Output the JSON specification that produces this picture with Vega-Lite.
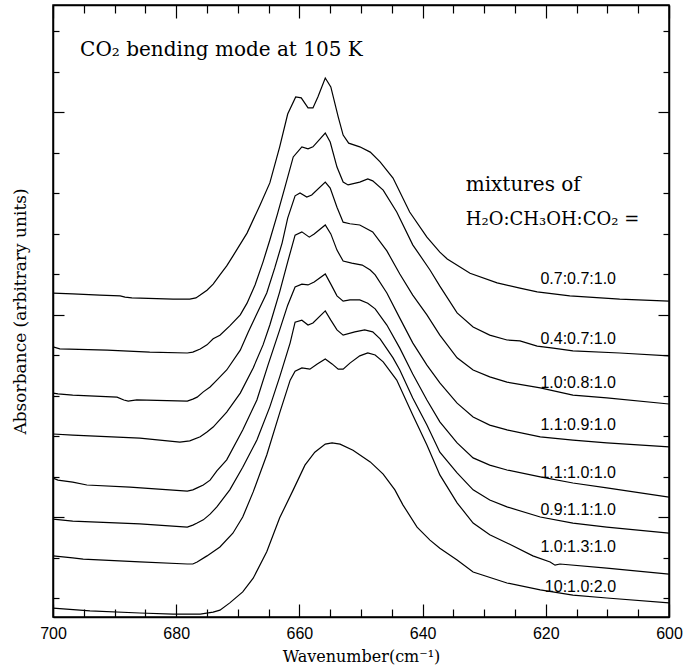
{
  "$schema": "https://vega.github.io/schema/vega-lite/v6.json",
  "width": 616,
  "height": 612,
  "autosize": {"type": "none"},
  "padding": {"left": 53, "top": 5, "right": 23, "bottom": 53},
  "background": "white",
  "config": {"view": {"stroke": "black", "strokeWidth": 1.5}},
  "datasets": {
    "curves": [
      {"s":"0.7:0.7:1.0","w":700,"a":7.53},{"s":"0.7:0.7:1.0","w":696.8,"a":7.51},{"s":"0.7:0.7:1.0","w":692.4,"a":7.48},{"s":"0.7:0.7:1.0","w":689.1,"a":7.46},{"s":"0.7:0.7:1.0","w":688.3,"a":7.43},{"s":"0.7:0.7:1.0","w":687.2,"a":7.41},{"s":"0.7:0.7:1.0","w":680.5,"a":7.38},{"s":"0.7:0.7:1.0","w":677.8,"a":7.38},{"s":"0.7:0.7:1.0","w":676.8,"a":7.41},{"s":"0.7:0.7:1.0","w":676.1,"a":7.48},{"s":"0.7:0.7:1.0","w":675.0,"a":7.60},{"s":"0.7:0.7:1.0","w":674.0,"a":7.75},{"s":"0.7:0.7:1.0","w":672.9,"a":7.98},{"s":"0.7:0.7:1.0","w":671.8,"a":8.20},{"s":"0.7:0.7:1.0","w":670.8,"a":8.44},{"s":"0.7:0.7:1.0","w":668.5,"a":9.01},{"s":"0.7:0.7:1.0","w":666.4,"a":9.70},{"s":"0.7:0.7:1.0","w":664.8,"a":10.25},{"s":"0.7:0.7:1.0","w":663.2,"a":11.14},{"s":"0.7:0.7:1.0","w":661.9,"a":11.95},{"s":"0.7:0.7:1.0","w":660.6,"a":12.37},{"s":"0.7:0.7:1.0","w":659.7,"a":12.35},{"s":"0.7:0.7:1.0","w":658.6,"a":12.10},{"s":"0.7:0.7:1.0","w":657.8,"a":12.10},{"s":"0.7:0.7:1.0","w":657.0,"a":12.37},{"s":"0.7:0.7:1.0","w":655.8,"a":12.84},{"s":"0.7:0.7:1.0","w":654.9,"a":12.62},{"s":"0.7:0.7:1.0","w":653.7,"a":11.88},{"s":"0.7:0.7:1.0","w":652.9,"a":11.43},{"s":"0.7:0.7:1.0","w":652.0,"a":11.23},{"s":"0.7:0.7:1.0","w":650.2,"a":11.14},{"s":"0.7:0.7:1.0","w":648.5,"a":11.01},{"s":"0.7:0.7:1.0","w":646.9,"a":10.77},{"s":"0.7:0.7:1.0","w":644.8,"a":10.37},{"s":"0.7:0.7:1.0","w":642.1,"a":9.53},{"s":"0.7:0.7:1.0","w":639.3,"a":8.91},{"s":"0.7:0.7:1.0","w":637.2,"a":8.54},{"s":"0.7:0.7:1.0","w":636.0,"a":8.37},{"s":"0.7:0.7:1.0","w":632.3,"a":8.02},{"s":"0.7:0.7:1.0","w":627.9,"a":7.78},{"s":"0.7:0.7:1.0","w":624.2,"a":7.65},{"s":"0.7:0.7:1.0","w":621.4,"a":7.56},{"s":"0.7:0.7:1.0","w":616.1,"a":7.46},{"s":"0.7:0.7:1.0","w":608.0,"a":7.38},{"s":"0.7:0.7:1.0","w":600,"a":7.33},

      {"s":"0.4:0.7:1.0","w":700,"a":6.20},{"s":"0.4:0.7:1.0","w":698.9,"a":6.15},{"s":"0.4:0.7:1.0","w":691.2,"a":6.12},{"s":"0.4:0.7:1.0","w":684.3,"a":6.07},{"s":"0.4:0.7:1.0","w":678.2,"a":6.05},{"s":"0.4:0.7:1.0","w":677.3,"a":6.07},{"s":"0.4:0.7:1.0","w":676.1,"a":6.15},{"s":"0.4:0.7:1.0","w":675.0,"a":6.25},{"s":"0.4:0.7:1.0","w":674.0,"a":6.40},{"s":"0.4:0.7:1.0","w":672.9,"a":6.49},{"s":"0.4:0.7:1.0","w":671.3,"a":6.72},{"s":"0.4:0.7:1.0","w":669.6,"a":6.99},{"s":"0.4:0.7:1.0","w":668.5,"a":7.28},{"s":"0.4:0.7:1.0","w":667.2,"a":7.73},{"s":"0.4:0.7:1.0","w":665.9,"a":8.30},{"s":"0.4:0.7:1.0","w":664.8,"a":8.84},{"s":"0.4:0.7:1.0","w":663.6,"a":9.46},{"s":"0.4:0.7:1.0","w":662.3,"a":10.17},{"s":"0.4:0.7:1.0","w":661.0,"a":10.89},{"s":"0.4:0.7:1.0","w":659.6,"a":11.14},{"s":"0.4:0.7:1.0","w":658.6,"a":11.09},{"s":"0.4:0.7:1.0","w":657.8,"a":11.14},{"s":"0.4:0.7:1.0","w":655.8,"a":11.48},{"s":"0.4:0.7:1.0","w":655.0,"a":11.26},{"s":"0.4:0.7:1.0","w":653.9,"a":10.64},{"s":"0.4:0.7:1.0","w":652.9,"a":10.27},{"s":"0.4:0.7:1.0","w":652.1,"a":10.20},{"s":"0.4:0.7:1.0","w":650.2,"a":10.27},{"s":"0.4:0.7:1.0","w":648.9,"a":10.35},{"s":"0.4:0.7:1.0","w":648.1,"a":10.30},{"s":"0.4:0.7:1.0","w":646.4,"a":10.07},{"s":"0.4:0.7:1.0","w":644.2,"a":9.53},{"s":"0.4:0.7:1.0","w":641.6,"a":8.72},{"s":"0.4:0.7:1.0","w":638.8,"a":8.10},{"s":"0.4:0.7:1.0","w":637.2,"a":7.70},{"s":"0.4:0.7:1.0","w":634.4,"a":7.04},{"s":"0.4:0.7:1.0","w":631.8,"a":6.69},{"s":"0.4:0.7:1.0","w":629.1,"a":6.49},{"s":"0.4:0.7:1.0","w":626.3,"a":6.37},{"s":"0.4:0.7:1.0","w":624.2,"a":6.35},{"s":"0.4:0.7:1.0","w":621.4,"a":6.22},{"s":"0.4:0.7:1.0","w":618.8,"a":6.17},{"s":"0.4:0.7:1.0","w":615.6,"a":6.10},{"s":"0.4:0.7:1.0","w":608.0,"a":6.05},{"s":"0.4:0.7:1.0","w":600,"a":5.98},

      {"s":"1.0:0.8:1.0","w":700,"a":5.06},{"s":"1.0:0.8:1.0","w":699.2,"a":5.04},{"s":"1.0:0.8:1.0","w":696.8,"a":5.01},{"s":"1.0:0.8:1.0","w":689.6,"a":4.96},{"s":"1.0:0.8:1.0","w":688.5,"a":4.89},{"s":"1.0:0.8:1.0","w":687.8,"a":4.86},{"s":"1.0:0.8:1.0","w":686.4,"a":4.89},{"s":"1.0:0.8:1.0","w":678.2,"a":4.86},{"s":"1.0:0.8:1.0","w":677.3,"a":4.91},{"s":"1.0:0.8:1.0","w":676.6,"a":4.96},{"s":"1.0:0.8:1.0","w":675.6,"a":5.09},{"s":"1.0:0.8:1.0","w":674.5,"a":5.21},{"s":"1.0:0.8:1.0","w":673.4,"a":5.38},{"s":"1.0:0.8:1.0","w":671.8,"a":5.63},{"s":"1.0:0.8:1.0","w":669.6,"a":6.12},{"s":"1.0:0.8:1.0","w":668.3,"a":6.57},{"s":"1.0:0.8:1.0","w":667.0,"a":6.99},{"s":"1.0:0.8:1.0","w":665.3,"a":7.53},{"s":"1.0:0.8:1.0","w":664.0,"a":8.15},{"s":"1.0:0.8:1.0","w":662.8,"a":8.77},{"s":"1.0:0.8:1.0","w":661.9,"a":9.38},{"s":"1.0:0.8:1.0","w":660.7,"a":9.93},{"s":"1.0:0.8:1.0","w":659.9,"a":10.00},{"s":"1.0:0.8:1.0","w":658.8,"a":9.90},{"s":"1.0:0.8:1.0","w":658.0,"a":9.95},{"s":"1.0:0.8:1.0","w":655.8,"a":10.27},{"s":"1.0:0.8:1.0","w":655.0,"a":10.12},{"s":"1.0:0.8:1.0","w":653.9,"a":9.65},{"s":"1.0:0.8:1.0","w":652.9,"a":9.28},{"s":"1.0:0.8:1.0","w":651.8,"a":9.24},{"s":"1.0:0.8:1.0","w":650.2,"a":9.21},{"s":"1.0:0.8:1.0","w":648.1,"a":9.04},{"s":"1.0:0.8:1.0","w":645.8,"a":8.57},{"s":"1.0:0.8:1.0","w":643.7,"a":8.00},{"s":"1.0:0.8:1.0","w":641.6,"a":7.48},{"s":"1.0:0.8:1.0","w":639.3,"a":6.99},{"s":"1.0:0.8:1.0","w":637.2,"a":6.49},{"s":"1.0:0.8:1.0","w":634.4,"a":5.93},{"s":"1.0:0.8:1.0","w":631.8,"a":5.63},{"s":"1.0:0.8:1.0","w":629.1,"a":5.46},{"s":"1.0:0.8:1.0","w":626.3,"a":5.33},{"s":"1.0:0.8:1.0","w":620.9,"a":5.19},{"s":"1.0:0.8:1.0","w":615.6,"a":5.01},{"s":"1.0:0.8:1.0","w":610.1,"a":4.94},{"s":"1.0:0.8:1.0","w":600,"a":4.79},

      {"s":"1.1:0.9:1.0","w":700,"a":4.05},{"s":"1.1:0.9:1.0","w":696.8,"a":4.02},{"s":"1.1:0.9:1.0","w":685.9,"a":3.95},{"s":"1.1:0.9:1.0","w":679.4,"a":3.85},{"s":"1.1:0.9:1.0","w":677.8,"a":3.88},{"s":"1.1:0.9:1.0","w":676.1,"a":3.98},{"s":"1.1:0.9:1.0","w":675.0,"a":4.10},{"s":"1.1:0.9:1.0","w":674.0,"a":4.22},{"s":"1.1:0.9:1.0","w":671.8,"a":4.59},{"s":"1.1:0.9:1.0","w":669.6,"a":5.06},{"s":"1.1:0.9:1.0","w":667.5,"a":5.68},{"s":"1.1:0.9:1.0","w":665.9,"a":6.25},{"s":"1.1:0.9:1.0","w":664.8,"a":6.74},{"s":"1.1:0.9:1.0","w":663.2,"a":7.56},{"s":"1.1:0.9:1.0","w":661.9,"a":8.30},{"s":"1.1:0.9:1.0","w":660.7,"a":8.96},{"s":"1.1:0.9:1.0","w":659.6,"a":9.04},{"s":"1.1:0.9:1.0","w":658.4,"a":8.91},{"s":"1.1:0.9:1.0","w":657.6,"a":8.99},{"s":"1.1:0.9:1.0","w":655.8,"a":9.21},{"s":"1.1:0.9:1.0","w":654.9,"a":8.99},{"s":"1.1:0.9:1.0","w":653.9,"a":8.59},{"s":"1.1:0.9:1.0","w":652.9,"a":8.32},{"s":"1.1:0.9:1.0","w":651.5,"a":8.27},{"s":"1.1:0.9:1.0","w":649.8,"a":8.22},{"s":"1.1:0.9:1.0","w":648.5,"a":8.10},{"s":"1.1:0.9:1.0","w":647.7,"a":7.98},{"s":"1.1:0.9:1.0","w":645.8,"a":7.53},{"s":"1.1:0.9:1.0","w":643.7,"a":6.91},{"s":"1.1:0.9:1.0","w":641.6,"a":6.30},{"s":"1.1:0.9:1.0","w":639.3,"a":5.75},{"s":"1.1:0.9:1.0","w":637.2,"a":5.31},{"s":"1.1:0.9:1.0","w":634.4,"a":4.81},{"s":"1.1:0.9:1.0","w":631.8,"a":4.47},{"s":"1.1:0.9:1.0","w":629.1,"a":4.27},{"s":"1.1:0.9:1.0","w":626.3,"a":4.15},{"s":"1.1:0.9:1.0","w":620.9,"a":3.98},{"s":"1.1:0.9:1.0","w":615.6,"a":3.90},{"s":"1.1:0.9:1.0","w":610.1,"a":3.83},{"s":"1.1:0.9:1.0","w":600,"a":3.73},

      {"s":"1.1:1.0:1.0","w":700,"a":2.96},{"s":"1.1:1.0:1.0","w":699.2,"a":2.91},{"s":"1.1:1.0:1.0","w":696.8,"a":2.86},{"s":"1.1:1.0:1.0","w":694.5,"a":2.79},{"s":"1.1:1.0:1.0","w":687.5,"a":2.74},{"s":"1.1:1.0:1.0","w":678.2,"a":2.64},{"s":"1.1:1.0:1.0","w":677.3,"a":2.67},{"s":"1.1:1.0:1.0","w":676.6,"a":2.72},{"s":"1.1:1.0:1.0","w":675.6,"a":2.79},{"s":"1.1:1.0:1.0","w":674.5,"a":2.91},{"s":"1.1:1.0:1.0","w":673.4,"a":3.14},{"s":"1.1:1.0:1.0","w":671.8,"a":3.41},{"s":"1.1:1.0:1.0","w":669.2,"a":4.15},{"s":"1.1:1.0:1.0","w":666.9,"a":4.89},{"s":"1.1:1.0:1.0","w":665.1,"a":5.75},{"s":"1.1:1.0:1.0","w":663.2,"a":6.62},{"s":"1.1:1.0:1.0","w":661.9,"a":7.23},{"s":"1.1:1.0:1.0","w":660.7,"a":7.68},{"s":"1.1:1.0:1.0","w":659.6,"a":7.75},{"s":"1.1:1.0:1.0","w":658.6,"a":7.73},{"s":"1.1:1.0:1.0","w":657.6,"a":7.80},{"s":"1.1:1.0:1.0","w":655.8,"a":8.00},{"s":"1.1:1.0:1.0","w":654.9,"a":7.75},{"s":"1.1:1.0:1.0","w":653.9,"a":7.46},{"s":"1.1:1.0:1.0","w":652.9,"a":7.33},{"s":"1.1:1.0:1.0","w":651.8,"a":7.36},{"s":"1.1:1.0:1.0","w":650.2,"a":7.36},{"s":"1.1:1.0:1.0","w":648.9,"a":7.28},{"s":"1.1:1.0:1.0","w":647.7,"a":7.14},{"s":"1.1:1.0:1.0","w":645.8,"a":6.74},{"s":"1.1:1.0:1.0","w":643.7,"a":6.17},{"s":"1.1:1.0:1.0","w":641.6,"a":5.53},{"s":"1.1:1.0:1.0","w":639.3,"a":4.89},{"s":"1.1:1.0:1.0","w":637.2,"a":4.35},{"s":"1.1:1.0:1.0","w":634.4,"a":3.83},{"s":"1.1:1.0:1.0","w":631.8,"a":3.46},{"s":"1.1:1.0:1.0","w":629.1,"a":3.28},{"s":"1.1:1.0:1.0","w":626.3,"a":3.16},{"s":"1.1:1.0:1.0","w":620.9,"a":2.99},{"s":"1.1:1.0:1.0","w":615.6,"a":2.84},{"s":"1.1:1.0:1.0","w":610.1,"a":2.72},{"s":"1.1:1.0:1.0","w":600,"a":2.49},

      {"s":"0.9:1.1:1.0","w":700,"a":1.95},{"s":"0.9:1.1:1.0","w":696.8,"a":1.90},{"s":"0.9:1.1:1.0","w":685.9,"a":1.83},{"s":"0.9:1.1:1.0","w":678.2,"a":1.75},{"s":"0.9:1.1:1.0","w":677.3,"a":1.80},{"s":"0.9:1.1:1.0","w":676.6,"a":1.85},{"s":"0.9:1.1:1.0","w":675.6,"a":1.93},{"s":"0.9:1.1:1.0","w":674.5,"a":2.07},{"s":"0.9:1.1:1.0","w":673.4,"a":2.25},{"s":"0.9:1.1:1.0","w":671.3,"a":2.67},{"s":"0.9:1.1:1.0","w":669.2,"a":3.23},{"s":"0.9:1.1:1.0","w":666.9,"a":3.90},{"s":"0.9:1.1:1.0","w":664.8,"a":4.72},{"s":"0.9:1.1:1.0","w":663.2,"a":5.46},{"s":"0.9:1.1:1.0","w":661.5,"a":6.30},{"s":"0.9:1.1:1.0","w":660.7,"a":6.81},{"s":"0.9:1.1:1.0","w":659.6,"a":6.86},{"s":"0.9:1.1:1.0","w":658.6,"a":6.74},{"s":"0.9:1.1:1.0","w":657.8,"a":6.79},{"s":"0.9:1.1:1.0","w":655.8,"a":7.09},{"s":"0.9:1.1:1.0","w":654.9,"a":6.86},{"s":"0.9:1.1:1.0","w":653.9,"a":6.62},{"s":"0.9:1.1:1.0","w":652.9,"a":6.49},{"s":"0.9:1.1:1.0","w":651.0,"a":6.57},{"s":"0.9:1.1:1.0","w":649.4,"a":6.62},{"s":"0.9:1.1:1.0","w":648.1,"a":6.57},{"s":"0.9:1.1:1.0","w":646.9,"a":6.40},{"s":"0.9:1.1:1.0","w":644.8,"a":5.93},{"s":"0.9:1.1:1.0","w":643.7,"a":5.63},{"s":"0.9:1.1:1.0","w":641.6,"a":4.94},{"s":"0.9:1.1:1.0","w":639.3,"a":4.27},{"s":"0.9:1.1:1.0","w":637.2,"a":3.60},{"s":"0.9:1.1:1.0","w":634.4,"a":3.09},{"s":"0.9:1.1:1.0","w":631.8,"a":2.67},{"s":"0.9:1.1:1.0","w":629.1,"a":2.42},{"s":"0.9:1.1:1.0","w":626.3,"a":2.25},{"s":"0.9:1.1:1.0","w":620.9,"a":2.00},{"s":"0.9:1.1:1.0","w":615.6,"a":1.85},{"s":"0.9:1.1:1.0","w":610.1,"a":1.75},{"s":"0.9:1.1:1.0","w":600,"a":1.60},

      {"s":"1.0:1.3:1.0","w":700,"a":1.04},{"s":"1.0:1.3:1.0","w":696.8,"a":0.99},{"s":"1.0:1.3:1.0","w":695.1,"a":0.96},{"s":"1.0:1.3:1.0","w":685.9,"a":0.89},{"s":"1.0:1.3:1.0","w":678.2,"a":0.84},{"s":"1.0:1.3:1.0","w":677.3,"a":0.84},{"s":"1.0:1.3:1.0","w":676.6,"a":0.89},{"s":"1.0:1.3:1.0","w":675.0,"a":1.04},{"s":"1.0:1.3:1.0","w":672.9,"a":1.26},{"s":"1.0:1.3:1.0","w":670.8,"a":1.60},{"s":"1.0:1.3:1.0","w":669.2,"a":2.00},{"s":"1.0:1.3:1.0","w":667.5,"a":2.62},{"s":"1.0:1.3:1.0","w":665.3,"a":3.53},{"s":"1.0:1.3:1.0","w":663.2,"a":4.57},{"s":"1.0:1.3:1.0","w":661.5,"a":5.38},{"s":"1.0:1.3:1.0","w":660.7,"a":5.60},{"s":"1.0:1.3:1.0","w":659.6,"a":5.68},{"s":"1.0:1.3:1.0","w":658.3,"a":5.65},{"s":"1.0:1.3:1.0","w":657.1,"a":5.78},{"s":"1.0:1.3:1.0","w":655.8,"a":5.90},{"s":"1.0:1.3:1.0","w":654.7,"a":5.78},{"s":"1.0:1.3:1.0","w":653.7,"a":5.65},{"s":"1.0:1.3:1.0","w":652.9,"a":5.65},{"s":"1.0:1.3:1.0","w":651.8,"a":5.80},{"s":"1.0:1.3:1.0","w":650.2,"a":5.98},{"s":"1.0:1.3:1.0","w":648.9,"a":6.05},{"s":"1.0:1.3:1.0","w":647.7,"a":6.00},{"s":"1.0:1.3:1.0","w":646.4,"a":5.83},{"s":"1.0:1.3:1.0","w":644.2,"a":5.38},{"s":"1.0:1.3:1.0","w":641.6,"a":4.52},{"s":"1.0:1.3:1.0","w":639.3,"a":3.78},{"s":"1.0:1.3:1.0","w":637.2,"a":3.04},{"s":"1.0:1.3:1.0","w":634.4,"a":2.35},{"s":"1.0:1.3:1.0","w":631.8,"a":1.85},{"s":"1.0:1.3:1.0","w":629.1,"a":1.56},{"s":"1.0:1.3:1.0","w":626.3,"a":1.36},{"s":"1.0:1.3:1.0","w":622.1,"a":1.04},{"s":"1.0:1.3:1.0","w":619.3,"a":0.89},{"s":"1.0:1.3:1.0","w":618.5,"a":0.81},{"s":"1.0:1.3:1.0","w":617.7,"a":0.84},{"s":"1.0:1.3:1.0","w":610.1,"a":0.74},{"s":"1.0:1.3:1.0","w":600,"a":0.59},

      {"s":"10:1.0:2.0","w":700,"a":-0.25},{"s":"10:1.0:2.0","w":694.0,"a":-0.32},{"s":"10:1.0:2.0","w":685.9,"a":-0.37},{"s":"10:1.0:2.0","w":680.5,"a":-0.40},{"s":"10:1.0:2.0","w":676.1,"a":-0.40},{"s":"10:1.0:2.0","w":674.0,"a":-0.35},{"s":"10:1.0:2.0","w":672.9,"a":-0.30},{"s":"10:1.0:2.0","w":671.3,"a":-0.12},{"s":"10:1.0:2.0","w":669.2,"a":0.15},{"s":"10:1.0:2.0","w":667.5,"a":0.49},{"s":"10:1.0:2.0","w":665.3,"a":1.14},{"s":"10:1.0:2.0","w":663.2,"a":1.98},{"s":"10:1.0:2.0","w":661.0,"a":2.67},{"s":"10:1.0:2.0","w":659.1,"a":3.28},{"s":"10:1.0:2.0","w":657.5,"a":3.60},{"s":"10:1.0:2.0","w":655.8,"a":3.80},{"s":"10:1.0:2.0","w":654.7,"a":3.83},{"s":"10:1.0:2.0","w":653.4,"a":3.80},{"s":"10:1.0:2.0","w":651.3,"a":3.65},{"s":"10:1.0:2.0","w":648.5,"a":3.36},{"s":"10:1.0:2.0","w":646.4,"a":3.06},{"s":"10:1.0:2.0","w":644.5,"a":2.67},{"s":"10:1.0:2.0","w":643.2,"a":2.30},{"s":"10:1.0:2.0","w":640.9,"a":1.75},{"s":"10:1.0:2.0","w":638.8,"a":1.43},{"s":"10:1.0:2.0","w":637.2,"a":1.23},{"s":"10:1.0:2.0","w":634.4,"a":0.94},{"s":"10:1.0:2.0","w":631.8,"a":0.64},{"s":"10:1.0:2.0","w":626.3,"a":0.37},{"s":"10:1.0:2.0","w":620.9,"a":0.20},{"s":"10:1.0:2.0","w":615.6,"a":0.07},{"s":"10:1.0:2.0","w":610.1,"a":0.00},{"s":"10:1.0:2.0","w":600,"a":-0.12}
    ],
    "labels": [
      {"t":"0.7:0.7:1.0","w":608.6,"a":7.88},
      {"t":"0.4:0.7:1.0","w":608.6,"a":6.40},
      {"t":"1.0:0.8:1.0","w":608.6,"a":5.31},
      {"t":"1.1:0.9:1.0","w":608.6,"a":4.27},
      {"t":"1.1:1.0:1.0","w":608.6,"a":3.09},
      {"t":"0.9:1.1:1.0","w":608.6,"a":2.17},
      {"t":"1.0:1.3:1.0","w":608.6,"a":1.26},
      {"t":"10:1.0:2.0","w":608.6,"a":0.27}
    ],
    "notes": [
      {"t":"CO₂ bending mode at 105 K","w":695.6,"a":13.53},
      {"t":"mixtures of","w":633.0,"a":10.20}
    ],
    "formula": [
      {"t":"H₂O:CH₃OH:CO₂ =","w":633.0,"a":9.33}
    ]
  },
  "layer": [
    {
      "data": {"name": "curves"},
      "mark": {"type": "line", "color": "black", "strokeWidth": 1.2, "clip": true},
      "encoding": {
        "x": {"field": "w", "type": "quantitative",
          "scale": {"domain": [600, 700], "reverse": true, "nice": false, "zero": false},
          "axis": {"orient": "bottom", "values": [700,695,690,685,680,675,670,665,660,655,650,645,640,635,630,625,620,615,610,605,600],
            "labelExpr": "datum.value % 20 === 0 ? datum.label : ''",
            "tickSize": {"condition": {"test": "datum.value % 20 === 0", "value": -13}, "value": -8},
            "tickColor": "black", "tickWidth": 1.2, "domainColor": "black", "domainWidth": 1.5,
            "labelFont": "Liberation Sans", "labelFontSize": 16, "labelColor": "black", "labelPadding": 21,
            "labelFlush": false, "labelOverlap": false, "grid": false,
            "title": "Wavenumber(cm⁻¹)", "titleFont": "DejaVu Serif", "titleFontSize": 16, "titleFontWeight": "normal", "titleColor": "black", "titlePadding": 2}},
        "y": {"field": "a", "type": "quantitative",
          "scale": {"domain": [-0.469, 14.642], "nice": false, "zero": false},
          "axis": {"orient": "left", "values": [0,1,2,3,4,5,6,7,8,9,10,11,12,13,14], "labels": false,
            "tickSize": {"condition": {"test": "datum.value % 5 === 2", "value": -11}, "value": -6},
            "tickColor": "black", "tickWidth": 1.2, "domainColor": "black", "domainWidth": 1.5, "grid": false,
            "title": "Absorbance (arbitrary units)", "titleFont": "DejaVu Serif", "titleFontSize": 17, "titleFontWeight": "normal", "titleColor": "black", "titlePadding": 23}},
        "detail": {"field": "s", "type": "nominal"}
      }
    },
    {
      "data": {"name": "labels"},
      "mark": {"type": "text", "align": "right", "baseline": "middle", "font": "Liberation Sans", "fontSize": 16, "color": "black"},
      "encoding": {
        "x": {"field": "w", "type": "quantitative",
          "axis": {"orient": "top", "values": [700,695,690,685,680,675,670,665,660,655,650,645,640,635,630,625,620,615,610,605,600], "labels": false, "title": null,
            "tickSize": {"condition": {"test": "datum.value % 20 === 0", "value": -13}, "value": -8},
            "tickColor": "black", "tickWidth": 1.2, "domainColor": "black", "domainWidth": 1.5, "grid": false}},
        "y": {"field": "a", "type": "quantitative",
          "axis": {"orient": "right", "values": [0,1,2,3,4,5,6,7,8,9,10,11,12,13,14], "labels": false, "title": null,
            "tickSize": {"condition": {"test": "datum.value % 5 === 2", "value": -11}, "value": -6},
            "tickColor": "black", "tickWidth": 1.2, "domainColor": "black", "domainWidth": 1.5, "grid": false}},
        "text": {"field": "t"}
      }
    },
    {
      "data": {"name": "notes"},
      "mark": {"type": "text", "align": "left", "baseline": "middle", "font": "DejaVu Serif", "fontSize": 20, "color": "black"},
      "encoding": {
        "x": {"field": "w", "type": "quantitative", "axis": null},
        "y": {"field": "a", "type": "quantitative", "axis": null},
        "text": {"field": "t"}
      }
    },
    {
      "data": {"name": "formula"},
      "mark": {"type": "text", "align": "left", "baseline": "middle", "font": "DejaVu Serif", "fontSize": 18, "color": "black"},
      "encoding": {
        "x": {"field": "w", "type": "quantitative", "axis": null},
        "y": {"field": "a", "type": "quantitative", "axis": null},
        "text": {"field": "t"}
      }
    }
  ],
  "resolve": {"axis": {"x": "independent", "y": "independent"}}
}
